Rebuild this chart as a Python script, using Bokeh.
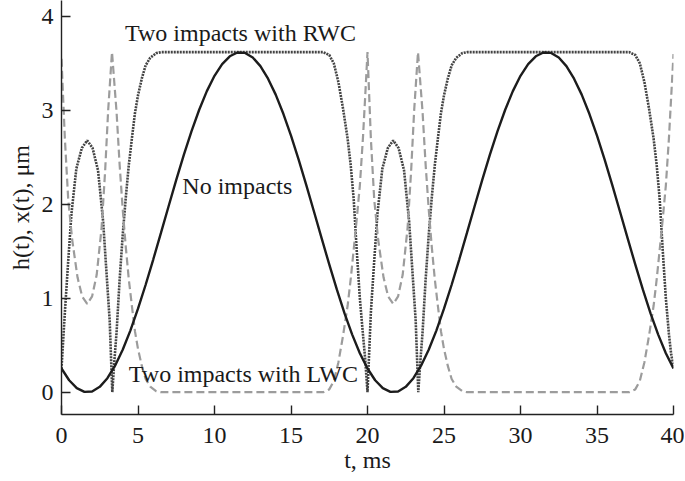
from bokeh.plotting import figure
from bokeh.models import Range1d, Label, FixedTicker
from bokeh.embed import file_html
from bokeh.resources import INLINE

# ---- data ----
t_free = [0.0, 0.5, 1.0, 1.5, 2.0, 2.5, 3.0, 3.5, 4.0, 4.5,
          5.0, 5.5, 6.0, 6.5, 7.0, 7.5, 8.0, 8.5, 9.0, 9.5,
          10.0, 10.5, 11.0, 11.5, 12.0, 12.5, 13.0, 13.5, 14.0, 14.5,
          15.0, 15.5, 16.0, 16.5, 17.0, 17.5, 18.0, 18.5, 19.0, 19.5,
          20.0, 20.5, 21.0, 21.5, 22.0, 22.5, 23.0, 23.5, 24.0, 24.5,
          25.0, 25.5, 26.0, 26.5, 27.0, 27.5, 28.0, 28.5, 29.0, 29.5,
          30.0, 30.5, 31.0, 31.5, 32.0, 32.5, 33.0, 33.5, 34.0, 34.5,
          35.0, 35.5, 36.0, 36.5, 37.0, 37.5, 38.0, 38.5, 39.0, 39.5, 40.0]
x_free = [0.252, 0.127, 0.044, 0.004, 0.008, 0.057, 0.149, 0.282, 0.452, 0.656,
          0.889, 1.144, 1.415, 1.696, 1.980, 2.260, 2.529, 2.780, 3.007, 3.205,
          3.368, 3.493, 3.576, 3.616, 3.612, 3.563, 3.471, 3.338, 3.168, 2.964,
          2.731, 2.476, 2.205, 1.924, 1.640, 1.360, 1.091, 0.840, 0.613, 0.415,
          0.252, 0.127, 0.044, 0.004, 0.008, 0.057, 0.149, 0.282, 0.452, 0.656,
          0.889, 1.144, 1.415, 1.696, 1.980, 2.260, 2.529, 2.780, 3.007, 3.205,
          3.368, 3.493, 3.576, 3.616, 3.612, 3.563, 3.471, 3.338, 3.168, 2.964,
          2.731, 2.476, 2.205, 1.924, 1.640, 1.360, 1.091, 0.840, 0.613, 0.415, 0.252]

t_lwc = [0.00, 0.22, 0.44, 0.70, 1.05, 1.35, 1.68, 2.00, 2.30, 2.62, 2.85, 3.05, 3.30,
         3.45, 3.60, 3.80, 4.00, 4.20, 4.40, 4.60, 4.80, 5.00, 5.25, 5.50, 5.80, 6.20, 6.50,
         17.10, 17.50, 17.80, 18.10, 18.40, 18.70, 18.90, 19.10, 19.30, 19.50, 19.70, 19.85, 20.00,
         20.22, 20.44, 20.70, 21.05, 21.35, 21.68, 22.00, 22.30, 22.62, 22.85, 23.05, 23.30,
         23.45, 23.60, 23.80, 24.00, 24.20, 24.40, 24.60, 24.80, 25.00, 25.25, 25.50, 25.80, 26.20, 26.50,
         37.10, 37.50, 37.80, 38.10, 38.40, 38.70, 38.90, 39.10, 39.30, 39.50, 39.70, 39.85, 40.00]
x_lwc = [3.55, 2.70, 2.05, 1.62, 1.22, 1.02, 0.94, 1.02, 1.25, 1.75, 2.35, 3.00, 3.62,
         3.30, 2.98, 2.42, 1.95, 1.55, 1.20, 0.92, 0.65, 0.46, 0.28, 0.14, 0.06, 0.01, 0.00,
         0.00, 0.03, 0.12, 0.32, 0.60, 0.92, 1.20, 1.52, 1.85, 2.20, 2.70, 3.15, 3.62,
         2.70, 2.05, 1.62, 1.22, 1.02, 0.94, 1.02, 1.25, 1.75, 2.35, 3.00, 3.62,
         3.30, 2.98, 2.42, 1.95, 1.55, 1.20, 0.92, 0.65, 0.46, 0.28, 0.14, 0.06, 0.01, 0.00,
         0.00, 0.03, 0.12, 0.32, 0.60, 0.92, 1.20, 1.52, 1.85, 2.20, 2.70, 3.15, 3.60]

t_rwc = [0.00, 0.22, 0.44, 0.65, 0.97, 1.33, 1.68, 2.03, 2.39, 2.72, 2.93, 3.15, 3.32,
         3.45, 3.60, 3.80, 4.00, 4.20, 4.40, 4.60, 4.80, 5.00, 5.25, 5.50, 5.80, 6.20, 6.50,
         17.10, 17.50, 17.80, 18.10, 18.40, 18.70, 18.90, 19.10, 19.30, 19.50, 19.70, 19.85, 20.00,
         20.22, 20.44, 20.65, 20.97, 21.33, 21.68, 22.03, 22.39, 22.72, 22.93, 23.15, 23.32,
         23.45, 23.60, 23.80, 24.00, 24.20, 24.40, 24.60, 24.80, 25.00, 25.25, 25.50, 25.80, 26.20, 26.50,
         37.10, 37.50, 37.80, 38.10, 38.40, 38.70, 38.90, 39.10, 39.30, 39.50, 39.70, 39.85, 40.00]
x_rwc = [0.25, 0.85, 1.40, 1.90, 2.38, 2.60, 2.68, 2.60, 2.36, 1.82, 1.30, 0.76, 0.00,
         0.32, 0.64, 1.20, 1.67, 2.07, 2.42, 2.70, 2.97, 3.16, 3.34, 3.48, 3.56, 3.61, 3.62,
         3.62, 3.59, 3.50, 3.30, 3.02, 2.70, 2.42, 2.05, 1.50, 1.00, 0.62, 0.35, 0.00,
         0.85, 1.40, 1.90, 2.38, 2.60, 2.68, 2.60, 2.36, 1.82, 1.30, 0.76, 0.00,
         0.32, 0.64, 1.20, 1.67, 2.07, 2.42, 2.70, 2.97, 3.16, 3.34, 3.48, 3.56, 3.61, 3.62,
         3.62, 3.59, 3.50, 3.30, 3.02, 2.70, 2.42, 2.05, 1.50, 1.00, 0.62, 0.40, 0.28]

x_ticks = [0, 5, 10, 15, 20, 25, 30, 35, 40]
y_ticks = [0, 1, 2, 3, 4]

labels = ["Two impacts with RWC", "No impacts", "Two impacts with LWC"]
label_t = [4.15, 7.9, 4.4]
label_y = [3.82, 2.2, 0.195]

FONT = "Liberation Serif"
FS = "24px"

p = figure(width=684, height=480, output_backend="svg", toolbar_location=None,
           x_range=Range1d(0, 40), y_range=Range1d(-0.2374, 4.170),
           min_border_left=61, min_border_right=11, min_border_top=0, min_border_bottom=66)
p.outline_line_color = None
p.xgrid.visible = False
p.ygrid.visible = False
p.background_fill_color = "white"
p.border_fill_color = "white"

p.line(t_rwc, x_rwc, line_color="#444444", line_width=2.6, line_dash="2 1")
p.line(t_lwc, x_lwc, line_color="#9c9c9c", line_width=2.2, line_dash="8 4")
p.line(t_free, x_free, line_color="#1c1c1c", line_width=2.4)

for txt, tx, ty in zip(labels, label_t, label_y):
    p.add_layout(Label(x=tx, y=ty, text=txt, text_font=FONT, text_font_size=FS,
                       text_color="#1a1a1a", text_baseline="alphabetic",
                       background_fill_color=None))

for ax in (p.xaxis[0], p.yaxis[0]):
    ax.axis_line_color = "#222222"
    ax.axis_line_width = 1.4
    ax.major_tick_line_color = "#222222"
    ax.major_tick_line_width = 1.4
    ax.major_tick_in = 9
    ax.major_tick_out = 0
    ax.minor_tick_line_color = None
    ax.major_label_text_font = FONT
    ax.major_label_text_font_size = FS
    ax.major_label_text_color = "#1a1a1a"
    ax.axis_label_text_font = FONT
    ax.axis_label_text_font_size = FS
    ax.axis_label_text_font_style = "normal"
    ax.axis_label_text_color = "#1a1a1a"

p.xaxis[0].ticker = FixedTicker(ticks=x_ticks)
p.yaxis[0].ticker = FixedTicker(ticks=y_ticks)
p.xaxis[0].axis_label = "t, ms"
p.yaxis[0].axis_label = "h(t), x(t), μm"
p.xaxis[0].major_label_standoff = 13
p.yaxis[0].major_label_standoff = 8
p.xaxis[0].axis_label_standoff = 1
p.yaxis[0].axis_label_standoff = 5

open("out.html", "w").write(file_html(p, INLINE))
